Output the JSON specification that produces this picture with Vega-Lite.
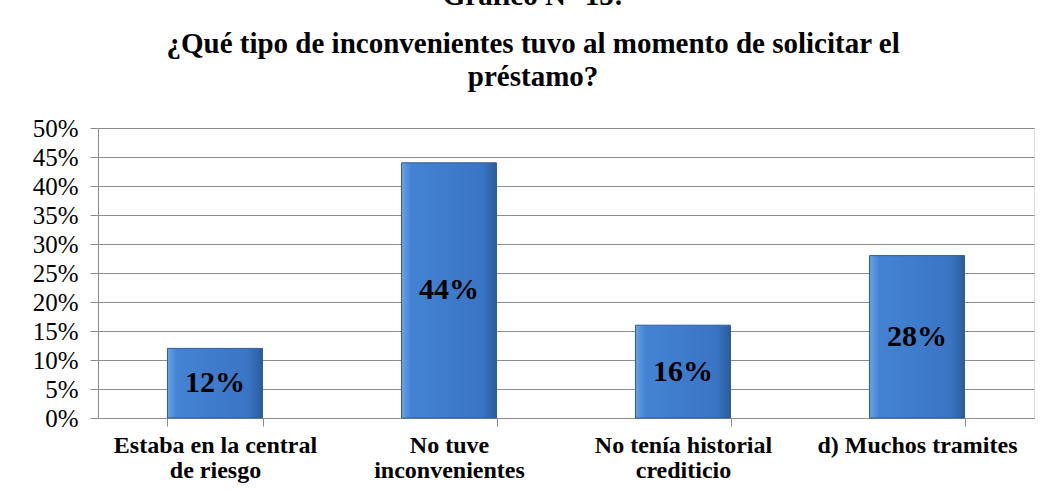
{
  "$schema": "https://vega.github.io/schema/vega-lite/v6.json",
  "width": 936,
  "height": 290,
  "autosize": "none",
  "padding": {"left": 98, "top": 128, "right": 15, "bottom": 75},
  "background": "white",
  "title": {
    "text": "Gráfico N° 15:",
    "subtitle": ["¿Qué tipo de inconvenientes tuvo al momento de solicitar el", "préstamo?"],
    "anchor": "middle",
    "frame": "bounds",
    "font": "Liberation Serif, Times New Roman, serif",
    "fontSize": 29,
    "fontWeight": "bold",
    "color": "black",
    "subtitleFont": "Liberation Serif, Times New Roman, serif",
    "subtitleFontSize": 29,
    "subtitleFontWeight": "bold",
    "subtitleColor": "black",
    "subtitleLineHeight": 33,
    "subtitlePadding": 19,
    "offset": 24
  },
  "config": {
    "axisY": {
      "labelOverlap": false
    }
  },
  "data": {
    "values": [
      {"categoria": "Estaba en la central|de riesgo", "valor": 0.12},
      {"categoria": "No tuve|inconvenientes", "valor": 0.44},
      {"categoria": "No tenía historial|crediticio", "valor": 0.16},
      {"categoria": "d) Muchos tramites", "valor": 0.28}
    ]
  },
  "transform": [{"calculate": "datum.valor / 2", "as": "mitad"}],
  "encoding": {
    "x": {
      "field": "categoria",
      "type": "nominal",
      "sort": null,
      "scale": {"paddingInner": 0.594, "paddingOuter": 0.297},
      "axis": {
        "title": null,
        "labelAngle": 0,
        "labelExpr": "split(datum.label, '|')",
        "labelFont": "Liberation Serif, Times New Roman, serif",
        "labelFontSize": 24,
        "labelFontWeight": "bold",
        "labelColor": "black",
        "labelLineHeight": 25,
        "labelPadding": 7,
        "labelLimit": 0,
        "tickBand": "extent",
        "tickSize": 8,
        "tickColor": "#8c8c8c",
        "domainColor": "#8c8c8c",
        "grid": false
      }
    }
  },
  "layer": [
    {
      "mark": {
        "type": "bar",
        "stroke": "#2f5d98",
        "strokeWidth": 1,
        "color": {
          "gradient": "linear",
          "x1": 0, "y1": 0, "x2": 1, "y2": 0,
          "stops": [
            {"offset": 0, "color": "#6aa3e6"},
            {"offset": 0.1, "color": "#4483d3"},
            {"offset": 0.85, "color": "#3a75c4"},
            {"offset": 1, "color": "#2c5c9c"}
          ]
        }
      },
      "encoding": {
        "y": {
          "field": "valor",
          "type": "quantitative",
          "scale": {"domain": [0, 0.5], "nice": false},
          "axis": {
            "title": null,
            "values": [0, 0.05, 0.1, 0.15, 0.2, 0.25, 0.3, 0.35, 0.4, 0.45, 0.5],
            "format": ".0%",
            "labelFont": "Liberation Serif, Times New Roman, serif",
            "labelFontSize": 25,
            "labelColor": "black",
            "labelPadding": 12,
            "labelOverlap": false,
            "tickSize": 8,
            "tickColor": "#8c8c8c",
            "domainColor": "#8c8c8c",
            "gridColor": "#8c8c8c",
            "gridWidth": 1
          }
        }
      }
    },
    {
      "mark": {
        "type": "text",
        "font": "Liberation Serif, Times New Roman, serif",
        "fontSize": 30,
        "fontWeight": "bold",
        "color": "black",
        "baseline": "middle"
      },
      "encoding": {
        "y": {
          "field": "mitad",
          "type": "quantitative",
          "axis": {
            "title": null,
            "values": [0, 0.05, 0.1, 0.15, 0.2, 0.25, 0.3, 0.35, 0.4, 0.45, 0.5],
            "format": ".0%",
            "labelFont": "Liberation Serif, Times New Roman, serif",
            "labelFontSize": 25,
            "labelColor": "black",
            "labelPadding": 12,
            "labelOverlap": false,
            "tickSize": 8,
            "tickColor": "#8c8c8c",
            "domainColor": "#8c8c8c",
            "gridColor": "#8c8c8c",
            "gridWidth": 1
          }
        },
        "text": {"field": "valor", "type": "quantitative", "format": ".0%"}
      }
    }
  ]
}
